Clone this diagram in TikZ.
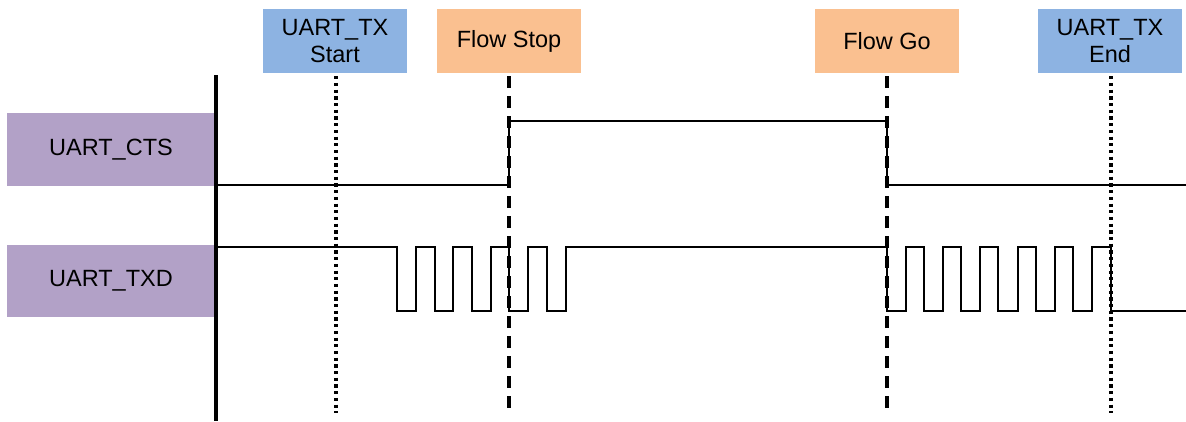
\documentclass[tikz,border=0pt]{standalone}
\usepackage{fontspec}
\setmainfont{Liberation Sans}
\definecolor{boxblue}{RGB}{141,179,226}
\definecolor{boxorange}{RGB}{250,192,144}
\definecolor{boxpurple}{RGB}{178,161,199}
\begin{document}
\begin{tikzpicture}[x=1pt,y=-1pt,
  lbl/.style={inner sep=0pt,align=center,font=\fontsize{23.5}{27}\selectfont},
  evbox/.style={lbl,minimum width=144pt,minimum height=64pt},
  sigbox/.style={lbl,fill=boxpurple,minimum width=208pt,minimum height=73pt},
  dotline/.style={line width=3.2pt,dash pattern=on 3.2pt off 3.5pt},
  dashline/.style={line width=3.5pt,dash pattern=on 12pt off 8pt},
  wave/.style={line width=2pt,line join=miter},
  axisline/.style={line width=3.8pt}]
\useasboundingbox (0,0) rectangle (1186,421);
% event boxes
\node[evbox,fill=boxblue] (start) at (335,41) {UART\_TX\\Start};
\node[evbox,fill=boxorange] (stop) at (509,41) {Flow Stop};
\node[evbox,fill=boxorange] (go) at (887,41) {Flow Go};
\node[evbox,fill=boxblue] (end) at (1110,41) {UART\_TX\\End};
% signal labels
\node[sigbox] (cts) at (111,149.5) {UART\_CTS};
\node[sigbox,minimum height=72pt] (txd) at (111,281) {UART\_TXD};
% vertical markers
\coordinate (startb) at (336,413);
\coordinate (stopb) at (509,416);
\coordinate (gob) at (887,416);
\coordinate (endb) at (1111,413);
\draw[dotline] (start.south -| startb) ++(0,3) -- (startb);
\draw[dashline] (stop.south) ++(0,3) -- (stopb);
\draw[dashline] (go.south) ++(0,3) -- (gob);
\draw[dotline] (end.south -| endb) ++(0,3) -- (endb);
% axis
\coordinate (axt) at (216,75);
\coordinate (axb) at (216,421);
\draw[axisline] (axt) -- (axb);
% CTS waveform
\draw[wave] (216,185) -- (509,185) -- (509,121) -- (887,121) -- (887,185) -- (1186,185);
% TXD waveform
\def\hi{247}\def\lo{311}
\draw[wave] (216,\hi) -- (397,\hi)
  -- (397,\lo) -- (416,\lo) -- (416,\hi) -- (435,\hi)
  -- (435,\lo) -- (453,\lo) -- (453,\hi) -- (472,\hi)
  -- (472,\lo) -- (491,\lo) -- (491,\hi) -- (509,\hi)
  -- (509,\lo) -- (528,\lo) -- (528,\hi) -- (547,\hi)
  -- (547,\lo) -- (566,\lo) -- (566,\hi) -- (887,\hi)
  -- (887,\lo) -- (906,\lo) -- (906,\hi) -- (924,\hi)
  -- (924,\lo) -- (943,\lo) -- (943,\hi) -- (961,\hi)
  -- (961,\lo) -- (980,\lo) -- (980,\hi) -- (998,\hi)
  -- (998,\lo) -- (1018,\lo) -- (1018,\hi) -- (1036,\hi)
  -- (1036,\lo) -- (1055,\lo) -- (1055,\hi) -- (1073,\hi)
  -- (1073,\lo) -- (1092,\lo) -- (1092,\hi) -- (1111,\hi)
  -- (1111,\lo) -- (1186,\lo);
\end{tikzpicture}
\end{document}
